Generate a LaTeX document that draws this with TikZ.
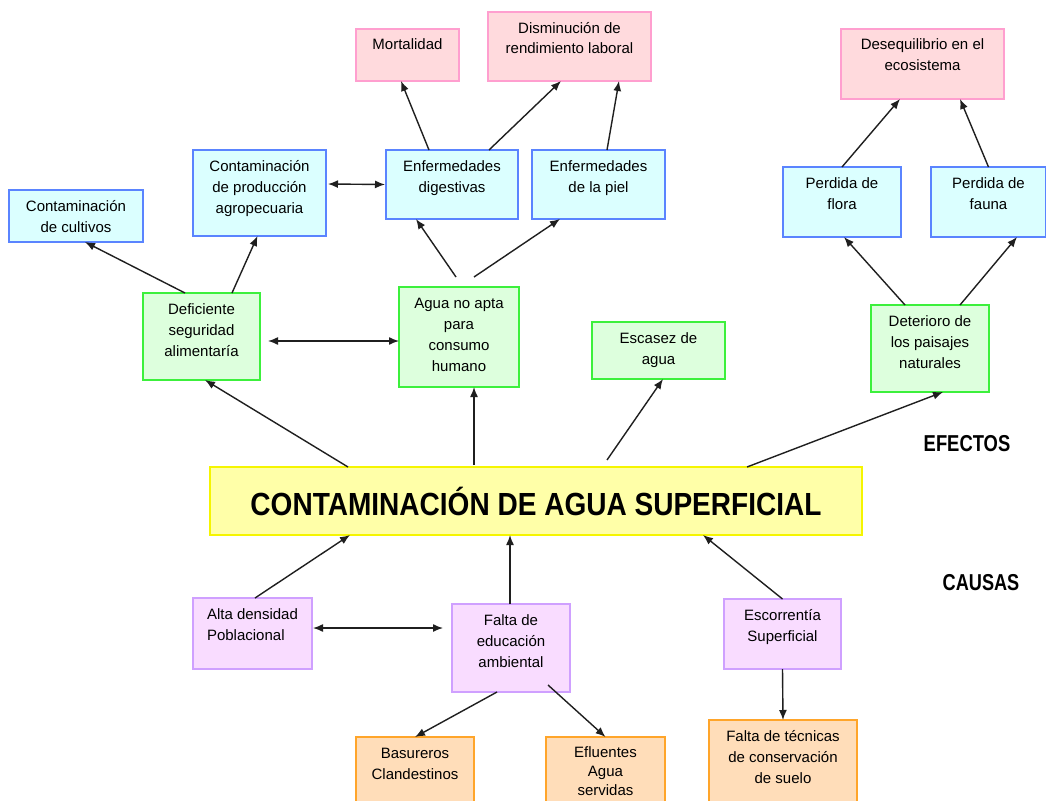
\documentclass[tikz,border=0pt]{standalone}
\usepackage{fontspec}
\usepackage{calc}
\setmainfont{Liberation Sans}
\usetikzlibrary{arrows.meta}
\definecolor{cyfill}{HTML}{DBFFFF}
\definecolor{cydraw}{HTML}{5A84FF}
\definecolor{pkfill}{HTML}{FFDADD}
\definecolor{pkdraw}{HTML}{FF9FCF}
\definecolor{grfill}{HTML}{DDFFDD}
\definecolor{grdraw}{HTML}{3CF03C}
\definecolor{pufill}{HTML}{F9DCFF}
\definecolor{pudraw}{HTML}{CFA0FF}
\definecolor{orfill}{HTML}{FFDDB9}
\definecolor{ordraw}{HTML}{FFA52A}
\definecolor{yefill}{HTML}{FFFFA8}
\definecolor{yedraw}{HTML}{F5F500}
\newcommand{\bx}[3]{\parbox[c][#2pt][t]{#1pt}{\centering\fontsize{15}{21}\selectfont\rule{0pt}{21pt}#3}}
\newcommand{\bxtight}[3]{\parbox[c][#2pt][t]{#1pt}{\centering\fontsize{15}{19}\selectfont\rule{0pt}{20pt}#3}}
\tikzset{
  box/.style={inner sep=0pt, outer sep=0pt, line width=1.6pt},
  cy/.style={box, draw=cydraw, fill=cyfill},
  pk/.style={box, draw=pkdraw, fill=pkfill},
  gr/.style={box, draw=grdraw, fill=grfill},
  pu/.style={box, draw=pudraw, fill=pufill},
  or/.style={box, draw=ordraw, fill=orfill},
  con/.style={line width=1.4pt, draw=black!88, -{Latex[length=10pt,width=8pt]}},
  bicon/.style={line width=1.4pt, draw=black!88, {Latex[length=10pt,width=8pt]}-{Latex[length=10pt,width=8pt]}},
  lab/.style={inner sep=0pt}
}
\begin{document}
\begin{tikzpicture}[x=1pt,y=-1pt]
\useasboundingbox (0,0) rectangle (1046,800);
\clip (0,0) rectangle (1046,800);
\fill[white] (0,0) rectangle (1046,800);
% effects
\node[cy] (cult) at (76,216) {\bx{134}{52}{Contaminación\\de cultivos}};
\node[cy] (prod) at (259.5,193) {\bx{133}{86}{Contaminación\\de producción\\agropecuaria}};
\node[pk] (mort) at (407.5,55) {\bx{103}{52}{Mortalidad}};
\node[pk] (dism) at (569.5,46.5) {\bx{163}{69}{Disminución de\\rendimiento laboral}};
\node[cy] (dig) at (452,184.5) {\bx{132}{69}{Enfermedades\\digestivas}};
\node[cy] (piel) at (598.5,184.5) {\bx{133}{69}{Enfermedades\\de la piel}};
\node[pk] (deseq) at (922.5,64) {\bx{163}{70}{Desequilibrio en el\\ecosistema}};
\node[cy] (flora) at (842,202) {\bx{118}{70}{Perdida de\\flora}};
\node[cy] (fauna) at (988.5,202) {\bx{115}{70}{Perdida de\\fauna}};
\node[gr] (defic) at (201.5,336.5) {\bx{117}{87}{Deficiente\\seguridad\\alimentaría}};
\node[gr] (agua) at (459,337) {\bx{120}{100}{Agua no apta\\para\\consumo\\humano}};
\node[gr] (escasez) at (658.5,350.5) {\bx{133}{57}{Escasez de\\agua}};
\node[gr] (deter) at (930,348.5) {\bx{118}{87}{Deterioro de\\los paisajes\\naturales}};
% central
\node[box, draw=yedraw, fill=yefill, minimum width=652pt, minimum height=68pt] (central) at (536,501)
  {\scalebox{0.876}[1]{\fontsize{32}{32}\selectfont\bfseries CONTAMINACIÓN DE AGUA SUPERFICIAL}};
\node[lab] (efectos) at (967,443.5) {\scalebox{0.8}[1]{\fontsize{23}{23}\selectfont\bfseries EFECTOS}};
\node[lab] (causas) at (981,582.5) {\scalebox{0.79}[1]{\fontsize{23}{23}\selectfont\bfseries CAUSAS}};
% causes
\node[pu] (alta) at (252.5,633.5) {\bx{119}{71}{Alta densidad\\\makebox[\widthof{Alta densidad}][l]{Poblacional}}};
\node[pu] (falta) at (511,648) {\bx{118}{88}{Falta de\\educación\\ambiental}};
\node[pu] (escor) at (782.5,634) {\bx{117}{70}{Escorrentía\\Superficial}};
\node[or] (bas) at (415,777) {\bx{118}{80}{Basureros\\Clandestinos}};
\node[or] (eflu) at (605.5,777) {\bxtight{119}{80}{Efluentes\\Agua\\servidas}};
\node[or] (tecn) at (783,765) {\bx{148}{90}{Falta de técnicas\\de conservación\\de suelo}};
% connectors (effects)
\draw[con] ([xshift=-16.5pt]defic.north) -- ([xshift=9pt]cult.south);
\draw[con] ([xshift=30.5pt]defic.north) -- ([xshift=-2pt]prod.south);
\draw[bicon] ([xshift=8pt,yshift=-4.5pt]defic.east) -- ([yshift=-4pt]agua.west);
\draw[bicon] ([xshift=2pt,yshift=9pt]prod.east) -- ([xshift=-1pt]dig.west);
\draw[con] ([xshift=-3pt,yshift=10pt]agua.north) -- ([xshift=-36pt]dig.south);
\draw[con] ([xshift=15pt,yshift=10pt]agua.north) -- ([xshift=-38.5pt]piel.south);
\draw[con] ([xshift=-23pt]dig.north) -- ([xshift=-6.5pt]mort.south);
\draw[con] ([xshift=37pt]dig.north) -- ([xshift=-8.5pt]dism.south);
\draw[con] ([xshift=8.5pt]piel.north) -- ([xshift=49.5pt]dism.south);
\draw[con] (flora.north) -- ([xshift=-22.5pt]deseq.south);
\draw[con] (fauna.north) -- ([xshift=37.5pt]deseq.south);
\draw[con] ([xshift=-25pt]deter.north) -- ([xshift=2pt]flora.south);
\draw[con] ([xshift=30pt]deter.north) -- ([xshift=28.5pt]fauna.south);
\draw[con] ([xshift=-188pt]central.north) -- ([xshift=3.5pt]defic.south);
\draw[con] ([xshift=-62pt,yshift=2pt]central.north) -- ([xshift=15pt]agua.south);
\draw[con] ([xshift=71pt,yshift=7pt]central.north) -- ([xshift=4.5pt]escasez.south);
\draw[con] ([xshift=211pt]central.north) -- ([xshift=13pt]deter.south);
% connectors (causes)
\draw[con] ([xshift=2.5pt]alta.north) -- ([xshift=-186pt]central.south);
\draw[con] ([xshift=-1pt]falta.north) -- ([xshift=-26pt]central.south);
\draw[con] (escor.north) -- ([xshift=167pt]central.south);
\draw[bicon] ([xshift=1pt,yshift=5.5pt]alta.east) -- ([xshift=-9pt,yshift=20pt]falta.west);
\draw[con] ([xshift=-14pt]falta.south) -- (bas.north);
\draw[con] ([xshift=37pt,yshift=7pt]falta.south) -- (eflu.north);
\draw[con] (escor.south) -- (tecn.north);
\end{tikzpicture}
\end{document}
